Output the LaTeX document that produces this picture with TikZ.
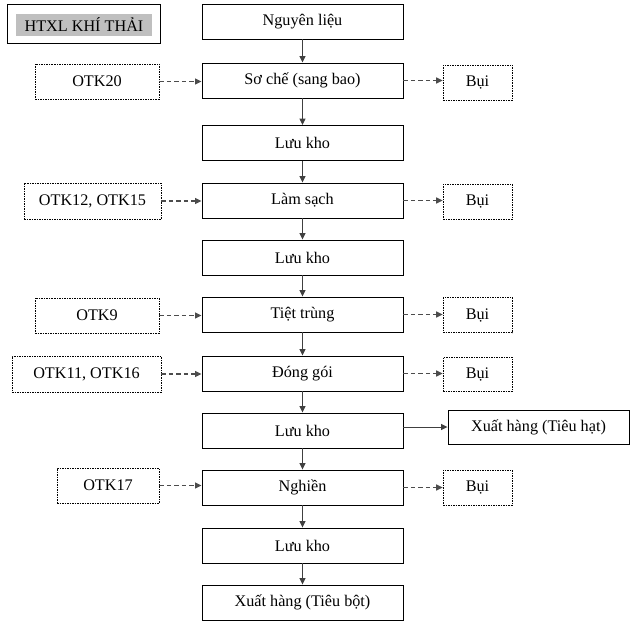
\documentclass[tikz,border=0pt]{standalone}
\usepackage{fontspec}
\setmainfont{Liberation Serif}
\usetikzlibrary{arrows.meta}
\begin{document}
\begin{tikzpicture}[x=1pt,y=-1pt,
  every node/.style={font=\fontsize{16.2}{19}\selectfont, inner sep=0pt, text=black},
  mainbox/.style={draw=black, line width=0.9pt, minimum width=201pt, minimum height=35pt},
  dbox/.style={draw=black, line width=0.7pt, dash pattern=on 1.5pt off 1pt, minimum height=35pt},
  flow/.style={draw=black!75, line width=1pt, -{Triangle[length=6.5pt,width=6pt]}},
  dflow/.style={draw=black!70, line width=1.2pt, dash pattern=on 4.5pt off 3pt, -{Triangle[length=6.5pt,width=6pt]}}]
\useasboundingbox (0,0) rectangle (634,626);
% legend
\node[draw=black, line width=0.9pt, minimum width=153pt, minimum height=39pt] (leg) at (83.5,23.5) {};
\node[fill=black!25, minimum width=136pt, minimum height=22pt] (legt) at (84,25) {HTXL KHÍ THẢI};
% main column
\node[mainbox] (nl) at (302.5,21.5) {Nguyên liệu};
\node[mainbox] (sc) at (302.5,80.5) {Sơ chế (sang bao)};
\node[mainbox] (lk1) at (302.5,143) {Lưu kho};
\node[mainbox] (ls) at (302.5,200.5) {Làm sạch};
\node[mainbox] (lk2) at (302.5,257.5) {Lưu kho};
\node[mainbox] (tt) at (302.5,314.5) {Tiệt trùng};
\node[mainbox] (dg) at (302.5,373.5) {Đóng gói};
\node[mainbox] (lk3) at (302.5,430.5) {Lưu kho};
\node[mainbox] (ng) at (302.5,487.5) {Nghiền};
\node[mainbox] (lk4) at (302.5,545.5) {Lưu kho};
\node[mainbox] (xh) at (302.5,602.5) {Xuất hàng (Tiêu bột)};
% left boxes
\node[dbox, minimum width=124pt] (o20) at (97,81.5) {OTK20};
\node[dbox, minimum width=137pt, minimum height=36pt] (o12) at (92.5,201) {OTK12, OTK15};
\node[dbox, minimum width=124pt] (o9) at (97,315.5) {OTK9};
\node[dbox, minimum width=149pt, minimum height=36pt] (o11) at (86.5,374) {OTK11, OTK16};
\node[dbox, minimum width=102pt] (o17) at (108,485.5) {OTK17};
% right boxes
\node[dbox, minimum width=69pt] (b1) at (477.5,82.5) {Bụi};
\node[dbox, minimum width=69pt] (b2) at (477.5,201.5) {Bụi};
\node[dbox, minimum width=69pt] (b3) at (477.5,315) {Bụi};
\node[dbox, minimum width=69pt, minimum height=34pt] (b4) at (477.5,374) {Bụi};
\node[dbox, minimum width=69pt] (b5) at (477.5,487.5) {Bụi};
\node[mainbox, minimum width=181pt, minimum height=34pt] (th) at (538.5,427) {Xuất hàng (Tiêu hạt)};
% vertical flow
\foreach \a/\b in {nl/sc, sc/lk1, lk1/ls, ls/lk2, lk2/tt, tt/dg, dg/lk3, lk3/ng, ng/lk4, lk4/xh}
  \draw[flow] (\a.south) -- (\b.north);
% side inputs
\foreach \o/\m in {o20/sc, o12/ls, o9/tt, o11/dg, o17/ng}
  \draw[dflow] (\o.east) -- (\o.east -| \m.west);
% side outputs
\foreach \m/\bb in {sc/b1, ls/b2, tt/b3, dg/b4, ng/b5}
  \draw[dflow] (\m.east) -- (\m.east -| \bb.west);
\draw[flow] (lk3.east |- th.west) -- (th.west);
\end{tikzpicture}
\end{document}
